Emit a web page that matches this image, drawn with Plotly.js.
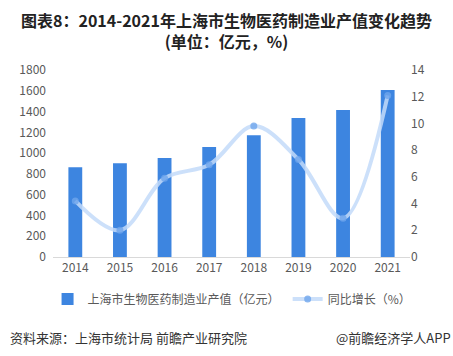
<!DOCTYPE html>
<html>
<head>
<meta charset="utf-8">
<script src="https://cdn.plot.ly/plotly-3.0.1.min.js"></script>
<style>html,body{margin:0;padding:0;background:#fff;}#chart{width:453px;height:356px;}</style>
</head>
<body>
<div id="chart"></div>
<script>
const years = ['2014','2015','2016','2017','2018','2019','2020','2021'];
const outputValue = [865, 903, 952, 1058, 1173, 1337, 1414, 1607];
const growthRate = [4.2, 2.0, 5.9, 6.9, 9.8, 7.3, 2.9, 12.1];
const barName = '上海市生物医药制造业产值（亿元）';
const lineName = '同比增长（%）';

const FONT = '"Noto Sans CJK SC", "DejaVu Sans", sans-serif';

const traces = [
  {
    type: 'bar', x: years, y: outputValue, name: barName, legend: 'legend',
    marker: {color: '#3d85e0'}, width: 0.31, yaxis: 'y'
  },
  {
    type: 'scatter', mode: 'lines+markers', x: years, y: growthRate, name: lineName,
    yaxis: 'y2', legend: 'legend2',
    line: {color: 'rgba(195,219,249,0.85)', width: 4, shape: 'spline', smoothing: 1.0},
    marker: {color: 'rgba(110,165,236,0.8)', size: 7}
  }
];

const legendFont = {family: FONT, size: 12, color: '#595959'};

const layout = {
  width: 453, height: 356,
  margin: {l: 53, r: 43, t: 70, b: 99},
  paper_bgcolor: '#fff', plot_bgcolor: '#fff',
  font: {family: FONT, color: '#595959', size: 12},
  title: {
    text: '<b>图表8：2014-2021年上海市生物医药制造业产值变化趋势<br>(单位：亿元，%)</b>',
    font: {family: FONT, size: 16, color: '#222'},
    xref: 'container', yref: 'container',
    x: 0.5, xanchor: 'center', y: 0.925, yanchor: 'middle'
  },
  bargap: 0.69,
  showlegend: true,
  legend: {
    orientation: 'h', xref: 'container', x: 0.105, xanchor: 'left',
    yref: 'container', y: 0.16, yanchor: 'middle',
    font: legendFont, itemwidth: 30
  },
  legend2: {
    orientation: 'h', xref: 'container', x: 0.635, xanchor: 'left',
    yref: 'container', y: 0.16, yanchor: 'middle',
    font: legendFont, itemwidth: 30
  },
  xaxis: {
    type: 'category', showgrid: false, showline: true, linecolor: '#d9d9d9', linewidth: 1,
    ticks: '', tickfont: {family: FONT, size: 12, color: '#595959'}, zeroline: false
  },
  yaxis: {
    range: [0, 1800], dtick: 200, showgrid: false, zeroline: false, showline: false,
    tickfont: {family: FONT, size: 12, color: '#595959'}, ticks: '', ticklabelstandoff: 6
  },
  yaxis2: {
    range: [0, 14], dtick: 2, overlaying: 'y', side: 'right', showgrid: false, zeroline: false,
    showline: false, tickfont: {family: FONT, size: 12, color: '#595959'}, ticks: ''
  },
  annotations: [
    {
      text: '资料来源：上海市统计局 前瞻产业研究院', xref: 'paper', yref: 'paper',
      x: -0.125, xanchor: 'left', y: -0.43, yanchor: 'middle', showarrow: false,
      font: {family: FONT, size: 13, color: '#333'}
    },
    {
      text: '@前瞻经济学人APP', xref: 'paper', yref: 'paper',
      x: 1.12, xanchor: 'right', y: -0.43, yanchor: 'middle', showarrow: false,
      font: {family: FONT, size: 13, color: '#333'}
    }
  ]
};

Plotly.newPlot('chart', traces, layout, {displayModeBar: false, staticPlot: true});
</script>
</body>
</html>
